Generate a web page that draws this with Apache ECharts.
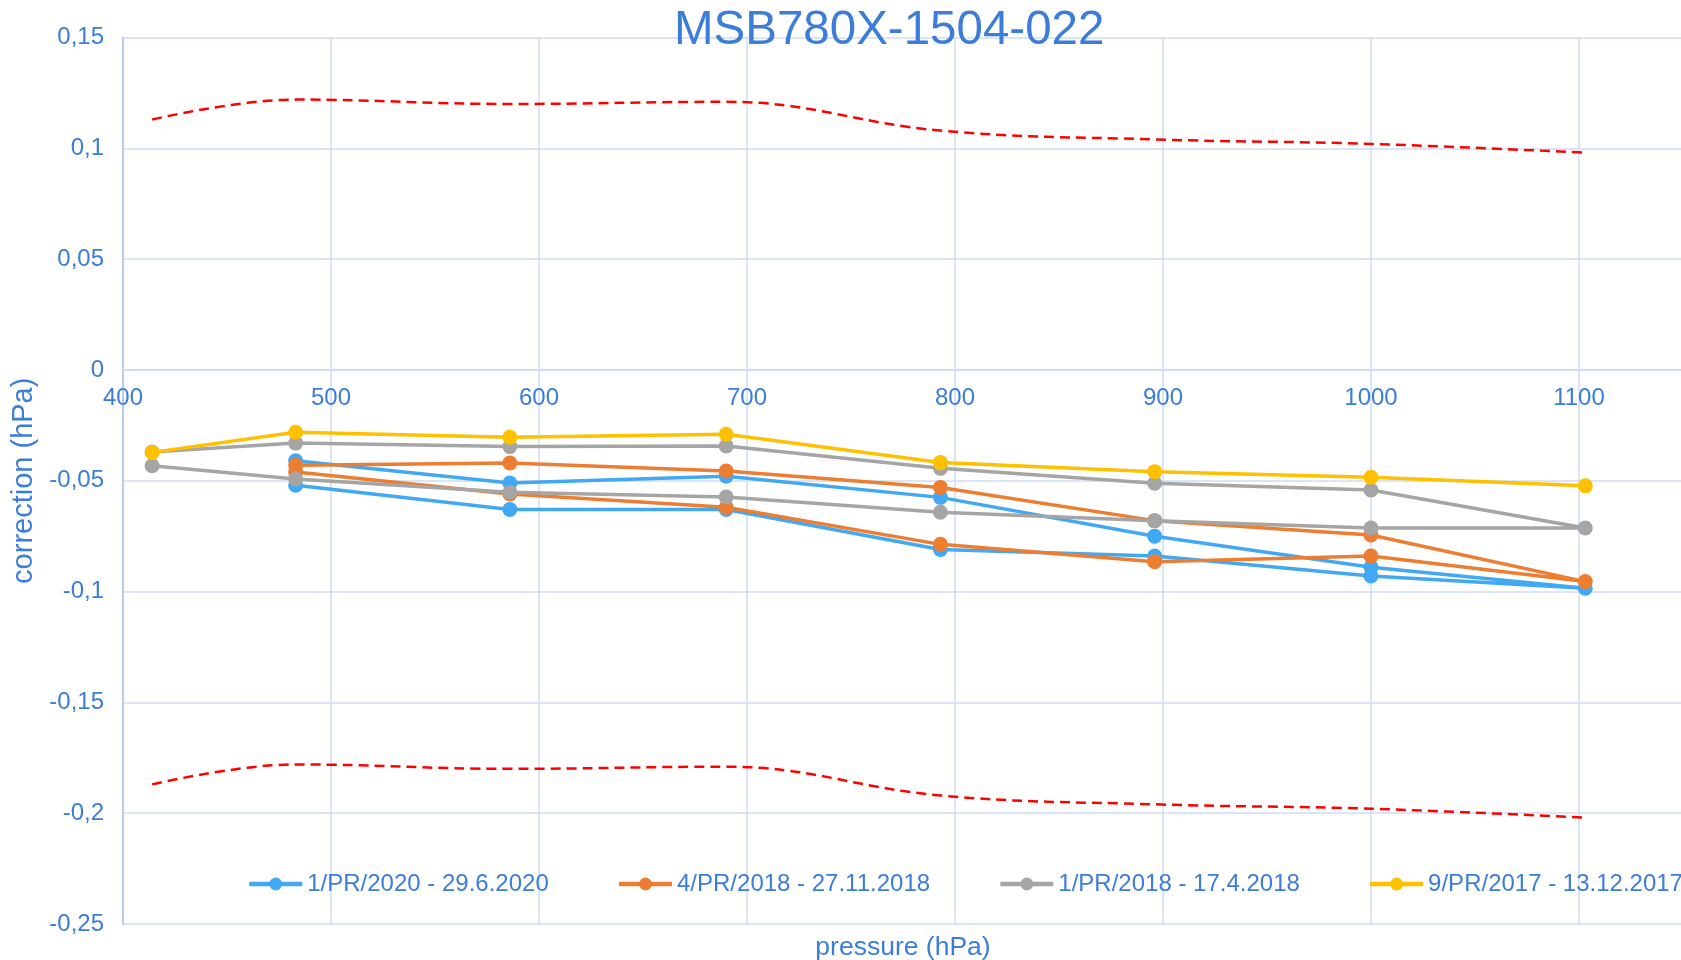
<!DOCTYPE html>
<html>
<head>
<meta charset="utf-8">
<title>MSB780X-1504-022</title>
<script src="https://cdn.jsdelivr.net/npm/echarts@6/dist/echarts.min.js"></script>
<style>
  html, body { margin: 0; padding: 0; background: #fff; }
  #chart { width: 1681px; height: 960px; }
</style>
</head>
<body>
<div id="chart"></div>
<script>
// pressure points (hPa) and corrections (hPa), up and down sweeps
const pressure2020 = [483, 586, 690, 793, 896, 1000, 1103, 1000, 896, 793, 690, 586, 483]
const corr2020 = [-0.041, -0.051, -0.048, -0.0575, -0.075, -0.089, -0.0985, -0.093, -0.084, -0.081, -0.063, -0.063, -0.052]

const pressure2018b = [483, 586, 690, 793, 896, 1000, 1103, 1000, 896, 793, 690, 586, 483]
const corr2018b = [-0.043, -0.042, -0.0456, -0.053, -0.068, -0.0745, -0.0955, -0.084, -0.0865, -0.0787, -0.062, -0.056, -0.046]

const pressure2018a = [414, 483, 586, 690, 793, 896, 1000, 1103, 1000, 896, 793, 690, 586, 483, 414]
const corr2018a = [-0.037, -0.033, -0.0346, -0.0343, -0.0444, -0.0511, -0.0542, -0.0713, -0.0713, -0.0681, -0.0642, -0.0573, -0.0552, -0.0492, -0.0432]

const pressure2017 = [414, 483, 586, 690, 793, 896, 1000, 1103]
const corr2017 = [-0.0372, -0.0281, -0.0304, -0.029, -0.0418, -0.0459, -0.0484, -0.0523]

// tolerance band (red dashed)
const limitPressure = [414, 483, 586, 690, 793, 896, 1000, 1103]
const limitUpper = [0.113, 0.122, 0.120, 0.121, 0.108, 0.104, 0.102, 0.098]
const limitLower = [-0.187, -0.178, -0.180, -0.179, -0.192, -0.196, -0.198, -0.202]

const seriesNames = [
  "1/PR/2020 - 29.6.2020",
  "4/PR/2018 - 27.11.2018",
  "1/PR/2018 - 17.4.2018",
  "9/PR/2017 - 13.12.2017"
]
const seriesColors = ["#41A8F3", "#ED7D31", "#A5A5A5", "#FFC000"]

const textBlue = "#3B7DD8"
const gridBlue = "#CFDDF2"
const font = "'Liberation Sans', Arial, sans-serif"

const yMin = -0.25
const yMax = 0.15
const gridTop = 37.5
const gridBottom = 36

const zip = (xs, ys) => xs.map((x, i) => [x, ys[i]])

const dataSets = [
  zip(pressure2020, corr2020),
  zip(pressure2018b, corr2018b),
  zip(pressure2018a, corr2018a),
  zip(pressure2017, corr2017)
]

const fmtComma = v => {
  let s = String(+v.toFixed(2))
  return s.replace(".", ",")
}

// onZero does not kick in here, so shift the x axis up to y = 0 by hand
const plotHeight = 960 - gridTop - gridBottom
const zeroOffset = -plotHeight * (0 - yMin) / (yMax - yMin)

const limitSeries = ys => ({
  type: "line",
  data: zip(limitPressure, ys),
  smooth: 0.4,
  symbol: "none",
  silent: true,
  lineStyle: { color: "#FF0000", width: 2.5, type: [10, 6] },
  z: 1
})

const option = {
  animation: false,
  textStyle: { fontFamily: font },
  title: {
    text: "MSB780X-1504-022",
    left: 669,
    top: 2,
    textStyle: { color: textBlue, fontSize: 47.5, fontWeight: "normal", fontFamily: font }
  },
  legend: {
    data: seriesNames,
    left: 242,
    top: 867,
    width: 1500,
    itemWidth: 53,
    itemHeight: 16,
    itemGap: 68,
    lineStyle: { width: 4.5 },
    textStyle: { color: textBlue, fontSize: 24, fontFamily: font }
  },
  grid: { left: 123, right: -2, top: gridTop, bottom: gridBottom, containLabel: false, outerBoundsMode: "none" },
  xAxis: {
    type: "value",
    min: 400,
    max: 1150,
    interval: 100,
    position: "bottom",
    offset: zeroOffset,
    name: "pressure (hPa)",
    nameLocation: "middle",
    nameGap: 564,
    nameTextStyle: { color: textBlue, fontSize: 26.5, fontFamily: font },
    axisLine: { onZero: false, lineStyle: { color: gridBlue, width: 2 } },
    axisTick: { show: false },
    axisLabel: {
      color: textBlue,
      fontSize: 24,
      margin: 16,
      formatter: v => (v % 100 === 0 ? String(v) : "")
    },
    splitLine: { show: true, lineStyle: { color: gridBlue, width: 1.5 } }
  },
  yAxis: {
    type: "value",
    min: yMin,
    max: yMax,
    interval: 0.05,
    name: "correction (hPa)",
    nameLocation: "middle",
    nameGap: 85,
    nameTextStyle: { color: textBlue, fontSize: 29, fontFamily: font },
    axisLine: { show: true, onZero: false, lineStyle: { color: "#B9CDEB", width: 2 } },
    axisTick: { show: false },
    axisLabel: { color: textBlue, fontSize: 24, margin: 19, formatter: fmtComma },
    splitLine: { show: true, lineStyle: { color: gridBlue, width: 1.5 } }
  },
  series: [
    limitSeries(limitUpper),
    limitSeries(limitLower),
    ...seriesNames.map((name, i) => ({
      name: name,
      type: "line",
      data: dataSets[i],
      symbol: "circle",
      symbolSize: 15,
      color: seriesColors[i],
      lineStyle: { width: 3.5, color: seriesColors[i] },
      itemStyle: { color: seriesColors[i] },
      z: 2 + i
    }))
  ]
}

const myChart = echarts.init(document.getElementById("chart"))
myChart.setOption(option)
</script>
</body>
</html>
